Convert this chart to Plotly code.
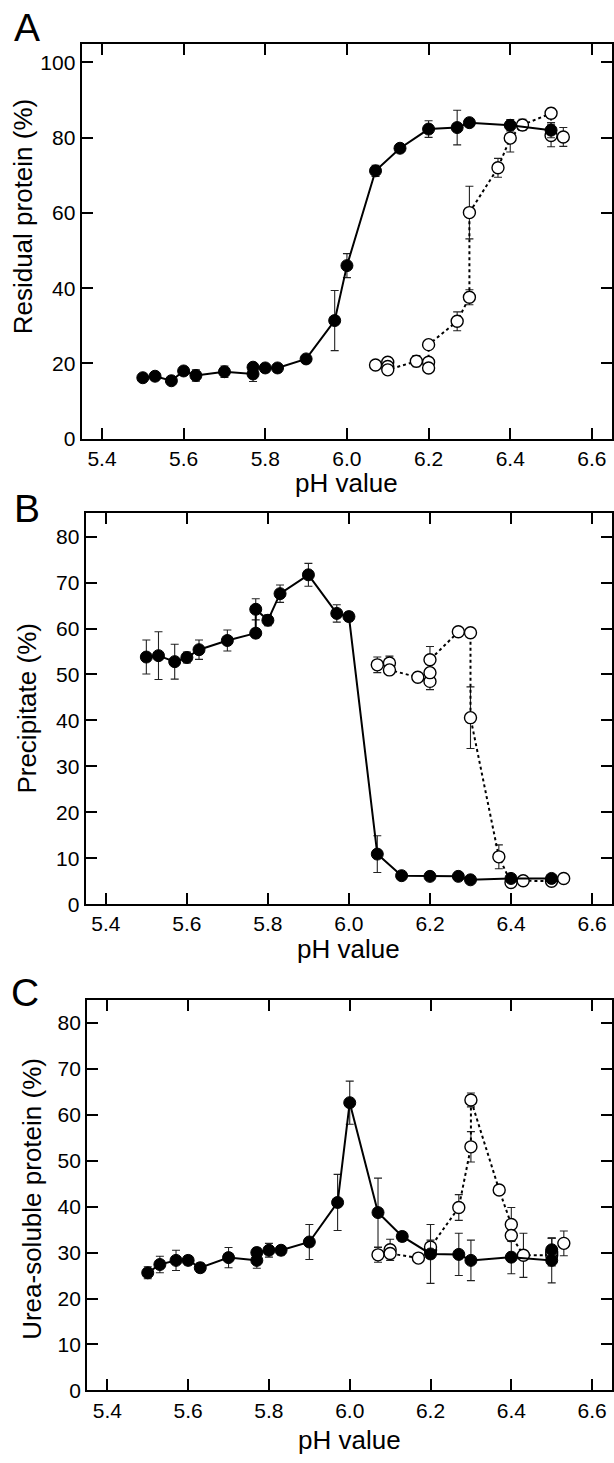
import plotly.graph_objects as go

W, H = 614, 1463

# ---- Panel A: residual protein (%) ----
a_filled_ph = [5.50, 5.53, 5.57, 5.60, 5.63, 5.70, 5.77, 5.77, 5.80, 5.83, 5.90, 5.97, 6.00, 6.07, 6.13, 6.20, 6.27, 6.30, 6.40, 6.50]
a_filled_val = [16.2, 16.6, 15.4, 18.0, 16.8, 17.8, 17.2, 19.0, 18.8, 18.8, 21.2, 31.4, 46.0, 71.2, 77.2, 82.3, 82.7, 84.0, 83.3, 82.0]
a_filled_err = [0.8, 0.8, 0.8, 1.0, 1.5, 1.5, 2.0, 1.0, 1.0, 0.8, 0.8, 8.0, 3.2, 1.5, 1.0, 2.2, 4.6, 1.0, 1.5, 2.0]

a_open_ph = [6.07, 6.10, 6.10, 6.10, 6.17, 6.20, 6.20, 6.20, 6.27, 6.30, 6.30, 6.37, 6.40, 6.43, 6.50, 6.50, 6.53]
a_open_val = [19.6, 20.3, 19.2, 18.3, 20.6, 20.3, 18.8, 25.0, 31.2, 37.6, 60.1, 72.0, 79.9, 83.4, 86.5, 80.6, 80.2]
a_open_err = [0.8, 1.0, 1.0, 1.0, 1.5, 1.0, 1.0, 0.8, 2.5, 2.0, 7.0, 2.5, 3.7, 1.5, 1.3, 3.0, 2.5]

# ---- Panel B: precipitate (%) ----
b_filled_ph = [5.50, 5.53, 5.57, 5.60, 5.63, 5.70, 5.77, 5.77, 5.80, 5.83, 5.90, 5.97, 6.00, 6.07, 6.13, 6.20, 6.27, 6.30, 6.40, 6.50]
b_filled_val = [53.8, 54.1, 52.8, 53.7, 55.4, 57.4, 59.0, 64.2, 61.8, 67.6, 71.7, 63.3, 62.6, 10.9, 6.2, 6.05, 6.05, 5.3, 5.6, 5.6]
b_filled_err = [3.7, 5.2, 3.8, 1.2, 2.1, 2.3, 1.0, 2.3, 1.2, 1.9, 2.5, 1.9, 1.0, 4.0, 0.6, 0.6, 0.6, 0.6, 0.6, 0.6]

b_open_ph = [6.07, 6.10, 6.10, 6.17, 6.20, 6.20, 6.20, 6.27, 6.30, 6.30, 6.37, 6.40, 6.43, 6.50, 6.53]
b_open_val = [52.1, 52.5, 51.0, 49.4, 48.5, 50.4, 53.2, 59.3, 59.1, 40.6, 10.3, 4.7, 5.1, 5.0, 5.6]
b_open_err = [1.7, 1.5, 0.8, 0.8, 1.8, 1.0, 2.9, 0.6, 0.6, 6.7, 2.6, 0.6, 0.6, 0.6, 0.6]

# ---- Panel C: urea-soluble protein (%) ----
c_filled_ph = [5.50, 5.53, 5.57, 5.60, 5.63, 5.70, 5.77, 5.77, 5.80, 5.83, 5.90, 5.97, 6.00, 6.07, 6.13, 6.20, 6.27, 6.30, 6.40, 6.50, 6.50]
c_filled_val = [25.6, 27.4, 28.3, 28.3, 26.7, 28.9, 28.3, 30.0, 30.5, 30.5, 32.3, 40.9, 62.6, 38.7, 33.5, 29.7, 29.6, 28.3, 29.0, 28.3, 30.6]
c_filled_err = [1.3, 1.8, 2.2, 1.0, 1.0, 2.2, 1.7, 1.0, 1.5, 1.0, 3.8, 6.1, 4.7, 7.5, 1.0, 6.4, 4.6, 4.4, 3.6, 4.9, 2.5]

c_open_ph = [6.07, 6.10, 6.10, 6.17, 6.20, 6.20, 6.27, 6.30, 6.30, 6.37, 6.40, 6.40, 6.43, 6.50, 6.50, 6.53]
c_open_val = [29.5, 30.6, 29.8, 28.8, 30.5, 31.2, 39.8, 53.0, 63.2, 43.6, 36.1, 33.7, 29.4, 29.4, 30.1, 32.0]
c_open_err = [1.6, 2.3, 1.0, 0.8, 1.0, 1.5, 2.8, 3.3, 1.5, 0.8, 3.7, 1.0, 4.8, 1.0, 3.0, 2.7]

x_ticks = [5.4, 5.6, 5.8, 6.0, 6.2, 6.4, 6.6]
x_tick_labels = ["5.4", "5.6", "5.8", "6.0", "6.2", "6.4", "6.6"]

panels = [
    # letter, ytitle, data, frame px (left, top, right, bottom), yrange, ydtick
    dict(letter="A", ytitle="Residual protein (%)",
         filled=(a_filled_ph, a_filled_val, a_filled_err), opened=(a_open_ph, a_open_val, a_open_err),
         frame=(81.7, 44, 613.3, 442), yrange=[0, 105], ytick=20, ymax_tick=100,
         letter_xy=(27, 28), ytitle_xy=(23, 218), xtitle_y=487),
    dict(letter="B", ytitle="Precipitate (%)",
         filled=(b_filled_ph, b_filled_val, b_filled_err), opened=(b_open_ph, b_open_val, b_open_err),
         frame=(85.7, 516.7, 613.3, 911), yrange=[0, 85.2], ytick=10, ymax_tick=80,
         letter_xy=(27.5, 512), ytitle_xy=(27, 713), xtitle_y=956),
    dict(letter="C", ytitle="Urea-soluble protein (%)",
         filled=(c_filled_ph, c_filled_val, c_filled_err), opened=(c_open_ph, c_open_val, c_open_err),
         frame=(87.3, 1007.3, 613.3, 1401), yrange=[0, 85], ytick=10, ymax_tick=80,
         letter_xy=(25.5, 1000), ytitle_xy=(32, 1208), xtitle_y=1451),
]

FONT = "Liberation Sans, Arial, sans-serif"

fig = go.Figure()
annotations = []
layout = {}

for i, p in enumerate(panels, start=1):
    xa = "x" if i == 1 else "x" + str(i)
    ya = "y" if i == 1 else "y" + str(i)
    left, top, right, bottom = p["frame"]

    # open circles with dotted line
    ph, val, err = p["opened"]
    fig.add_trace(go.Scatter(
        x=ph, y=val, mode="lines+markers", xaxis=xa, yaxis=ya,
        line=dict(color="black", width=2, dash="dot"),
        marker=dict(symbol="circle", size=12, color="white", line=dict(color="black", width=1.4)),
        error_y=dict(type="data", array=err, color="#222", thickness=1.1, width=4),
        showlegend=False))

    # filled circles with solid line
    ph, val, err = p["filled"]
    fig.add_trace(go.Scatter(
        x=ph, y=val, mode="lines+markers", xaxis=xa, yaxis=ya,
        line=dict(color="black", width=2),
        marker=dict(symbol="circle", size=12, color="black", line=dict(color="black", width=1)),
        error_y=dict(type="data", array=err, color="#222", thickness=1.1, width=4),
        showlegend=False))

    axis_common = dict(
        showline=True, linecolor="black", linewidth=2, mirror="ticks",
        ticks="inside", ticklen=11, tickwidth=1.6, tickcolor="black",
        showgrid=False, zeroline=False,
        tickfont=dict(family=FONT, size=21, color="black"),
    )
    layout["xaxis" if i == 1 else "xaxis" + str(i)] = dict(
        axis_common, domain=[left / W, right / W], range=[5.35, 6.65],
        tickvals=x_ticks, ticktext=x_tick_labels, anchor=ya)
    layout["yaxis" if i == 1 else "yaxis" + str(i)] = dict(
        axis_common, domain=[1 - bottom / H, 1 - top / H], range=p["yrange"],
        tickvals=list(range(0, p["ymax_tick"] + 1, p["ytick"])), anchor=xa)

    lx, ly = p["letter_xy"]
    annotations.append(dict(text=p["letter"], x=lx / W, y=1 - ly / H, xref="paper", yref="paper",
                            showarrow=False, xanchor="center", yanchor="middle",
                            font=dict(family=FONT, size=39, color="black")))
    tx, ty = p["ytitle_xy"]
    annotations.append(dict(text=p["ytitle"], x=tx / W, y=1 - ty / H, xref="paper", yref="paper",
                            showarrow=False, xanchor="center", yanchor="middle", textangle=-90,
                            font=dict(family=FONT, size=26, color="black")))
    annotations.append(dict(text="pH value", x=(left + right) / 2 / W, y=1 - p["xtitle_y"] / H,
                            xref="paper", yref="paper", showarrow=False,
                            xanchor="center", yanchor="middle",
                            font=dict(family=FONT, size=26, color="black")))

fig.update_layout(
    width=W, height=H,
    margin=dict(l=0, r=0, t=0, b=0),
    paper_bgcolor="white", plot_bgcolor="white",
    annotations=annotations,
    **layout)

# page body has a default 8px margin; remove it so the figure sits at (0, 0)
fig.write_html("out.html", config={"displayModeBar": False},
               post_script="document.body.style.margin='0px';")
